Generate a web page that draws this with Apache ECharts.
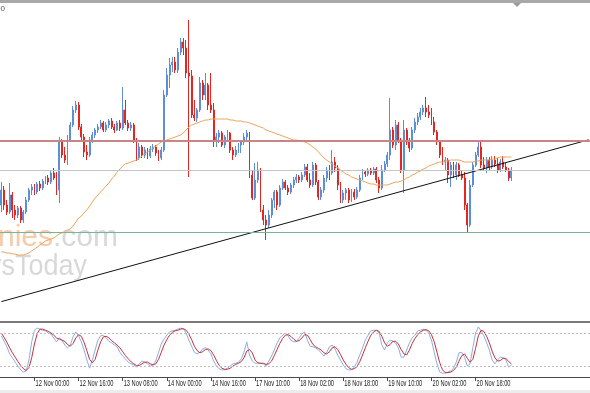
<!DOCTYPE html>
<html><head><meta charset="utf-8">
<script src="https://cdn.jsdelivr.net/npm/echarts@6/dist/echarts.min.js"></script>
<style>html,body{margin:0;padding:0;background:#fff;overflow:hidden}#c{width:590px;height:393px}</style>
</head><body><div id="c"></div>
<script>
// OHLC candles: [open, close, low, high]
const candles = [
[115,130,108,138],[130,115,110,134],[115,108,105,120],[108,125,106,137],[125,110,102,128],[110,105,100,115],[105,112,102,114],[112,100,97,114],[100,108,97,110],[108,120,106,123],
[120,130,118,132],[130,133,125,136],[133,128,125,136],[128,136,126,138],[136,132,129,139],[132,139,130,141],[139,142,136,144],[142,138,135,145],[138,147,136,150],[147,142,140,152],
[142,130,125,148],[130,178,117,183],[178,165,162,181],[165,160,157,173],[160,180,155,185],[180,195,178,198],[195,210,193,214],[210,215,207,219],[215,193,190,218],[193,183,180,196],
[183,168,163,186],[168,165,160,175],[165,180,163,183],[180,185,177,188],[185,190,182,192],[190,193,187,196],[193,197,191,200],[197,190,188,199],[190,195,188,198],[195,199,192,201],
[199,193,191,202],[193,190,187,196],[190,197,189,199],[197,192,189,200],[192,210,190,233],[210,197,195,220],[197,192,189,200],[192,195,189,198],[195,180,177,197],[180,162,159,182],
[162,173,160,177],[173,165,162,175],[165,170,162,173],[170,164,161,172],[164,171,162,174],[171,173,168,176],[173,167,164,175],[167,162,159,170],[162,170,160,173],[170,225,168,230],
[225,245,223,252],[245,255,232,262],[255,258,248,263],[258,250,247,263],[250,268,247,272],[268,278,265,282],[278,272,265,282],[272,247,242,280],[247,244,143,300],[244,205,202,250],
[205,202,199,220],[202,210,198,212],[210,237,208,243],[237,225,220,240],[225,235,220,247],[235,215,210,237],[215,210,207,247],[210,180,173,217],[180,183,173,187],[183,187,177,190],
[187,175,173,189],[175,183,172,185],[183,187,178,190],[187,170,167,188],[170,165,160,173],[165,170,163,174],[170,175,167,177],[175,178,167,180],[178,183,175,187],[183,187,180,190],
[187,145,142,188],[145,122,120,150],[122,140,120,157],[140,150,137,158],[150,110,108,152],[110,100,95,115],[100,95,80,105],[95,105,92,110],[105,120,102,122],[120,128,112,130],
[128,115,110,130],[115,132,113,135],[132,138,130,141],[138,132,130,140],[132,128,125,135],[128,135,126,137],[135,140,132,143],[140,143,137,146],[143,140,137,145],[140,145,138,148],
[145,153,143,156],[153,140,138,156],[140,135,132,147],[135,155,133,158],[155,138,135,157],[138,123,120,140],[123,130,120,133],[130,142,127,145],[142,150,138,153],[150,147,140,155],
[147,158,145,170],[158,152,148,163],[152,135,130,155],[135,120,117,138],[120,127,117,130],[127,130,120,132],[130,120,117,132],[120,128,118,131],[128,123,120,131],[123,130,121,133],
[130,142,128,145],[142,148,140,151],[148,146,143,150],[146,150,144,152],[150,147,145,152],[147,151,145,153],[151,140,137,153],[140,132,127,143],[132,150,130,155],[150,156,148,159],
[156,165,153,168],[165,190,160,222],[190,175,172,193],[175,195,170,200],[195,180,177,198],[180,150,147,182],[150,190,127,200],[190,178,175,192],[178,172,168,182],[172,190,170,193],
[190,198,187,202],[198,203,195,207],[203,208,200,212],[208,212,205,215],[212,208,203,223],[208,205,202,215],[205,198,195,212],[198,188,185,203],[188,178,175,190],[178,165,162,180],
[165,158,155,173],[158,160,150,163],[160,145,137,162],[145,155,133,158],[155,145,142,158],[145,155,140,158],[155,145,143,157],[145,142,140,150],[142,115,110,148],[115,95,88,117],
[95,135,93,140],[135,155,133,158],[155,165,153,168],[165,173,163,178],[173,155,152,178],[155,152,149,163],[152,160,147,163],[160,153,150,163],[153,160,151,164],[160,156,153,164],
[156,150,147,162],[150,158,148,161],[158,153,151,164],[153,150,148,157],[150,142,139,152],[142,150,139,153]
];
const maValues = [
68,68,67,67,66,66,65,65,65,66, 67,69,71,73,75,77,79,80,81,82, 84,86,87,89,90,91,94,98,102,104,
107,110,114,118,122,125,128,131,134,137, 141,144,148,151,154,156,157,158,159,160, 162,164,166,168,170,172,174,176,178,179,
180,181,182,183,184,185,187,190,193,195, 196,197,198,199,200,200,201,201,201,201, 201,201,201,200,200,199,199,199,198,198,
197,196,195,194,193,192,190,189,188,187, 186,185,184,183,182,181,180,180,179,179, 178,177,175,173,171,168,165,162,160,158,
156,154,152,150,148,146,145,143,142,141, 140,139,138,137,136,136,135,135,135,135, 135,136,137,138,138,139,140,142,143,145,
146,148,149,151,152,154,155,156,157,158, 158,159,159,160,160,160,160,159,158,158, 158,158,159,159,160,160,160,160,161,161,
162,163,163,163,163,163
];
const stochMain = [
75,65,55,42,35,27,20,13,9,11, 31,64,85,89,87,85,84,80,78,71, 64,71,67,58,53,58,73,82,75,64,
49,31,16,31,49,67,75,76,71,65, 62,58,55,45,38,33,27,24,22,18, 24,29,27,24,20,22,29,45,60,69,
76,82,84,85,87,89,87,80,67,56, 45,42,45,51,53,49,42,29,20,15, 13,13,16,20,24,25,27,33,45,64,
40,29,25,25,25,24,20,29,38,49, 62,71,76,80,75,67,64,64,71,78, 82,67,56,55,53,49,44,38,45,55,
58,51,40,31,22,15,13,13,18,27, 40,53,67,76,84,85,85,80,58,49, 62,67,65,62,53,36,36,49,62,71,
76,84,85,87,85,80,67,45,24,9, 7,7,9,11,16,27,44,45,36,20, 24,53,80,91,84,75,62,49,31,24,
31,36,35,31,18,22
];
const stochSignal = [
80,72,63,53,44,36,28,21,15,12, 17,35,60,79,87,87,85,83,80,76, 71,69,67,65,59,56,61,71,77,74,
63,48,32,26,32,49,64,73,74,71, 66,62,58,53,46,39,33,28,24,21, 21,24,27,27,24,22,24,32,45,58,
68,76,81,84,85,87,88,85,78,68, 56,48,44,46,50,51,48,40,30,21, 16,14,14,16,20,23,25,28,35,47,
50,44,31,26,25,25,23,24,29,39, 50,61,70,76,77,74,69,65,66,71, 77,76,68,59,55,52,49,44,42,46,
53,55,50,41,31,23,17,14,15,19, 28,40,53,65,76,82,85,83,74,62, 56,59,65,65,60,50,42,40,49,61,
70,77,82,85,86,84,77,64,45,26, 13,8,8,9,12,18,29,39,42,34, 27,32,52,75,85,83,74,62,47,35,
29,30,34,34,28,24
];
const tickLabels = ['12 Nov 00:00','12 Nov 16:00','13 Nov 08:00','14 Nov 00:00','14 Nov 16:00','17 Nov 10:00','18 Nov 02:00','18 Nov 18:00','19 Nov 10:00','20 Nov 02:00','20 Nov 18:00'];
const resistanceLevel = 179;
const pivotLevel = 150;
const supportLevel = 88;
const trendStart = 18.4;
const trendEnd = 180.2;
const stochLevels = [80, 20];

const slotCount = 214;
const firstTick = 12, tickStep = 16;
const lastTick = firstTick + tickStep * (tickLabels.length - 1);
const cats = Array.from({length: slotCount}, (_, i) => i);
const trendData = cats.map(i => i === 0 ? trendStart : (i === slotCount - 1 ? trendEnd : null));
const isTick = (idx) => idx >= firstTick && idx <= lastTick && (idx - firstTick) % tickStep === 0;

const chart = echarts.init(document.getElementById('c'), null, {renderer: 'canvas'});
chart.setOption({
  animation: false,
  backgroundColor: '#ffffff',
  grid: [
    {left: 0, right: -2, top: 3, bottom: 73},
    {left: 0, right: -2, top: 322, bottom: 16}
  ],
  xAxis: [
    {type: 'category', gridIndex: 0, data: cats, boundaryGap: true, show: false},
    {type: 'category', gridIndex: 1, data: cats, boundaryGap: true,
     axisLine: {show: true, lineStyle: {color: '#4a4a4a', width: 1}},
     axisTick: {show: true, alignWithLabel: true, interval: isTick, length: 4, lineStyle: {color: '#4a4a4a'}},
     axisLabel: {show: false},
     splitLine: {show: false}}
  ],
  yAxis: [
    {type: 'value', gridIndex: 0, min: 0, max: 317, show: false},
    {type: 'value', gridIndex: 1, min: 0, max: 100, show: false}
  ],
  series: [
    {type: 'candlestick', xAxisIndex: 0, yAxisIndex: 0, data: candles, barWidth: 1.4,
     itemStyle: {color: '#5b8fdb', color0: '#e32620', borderColor: '#5b8fdb', borderColor0: '#e32620', borderWidth: 1},
     markLine: {silent: true, symbol: 'none', label: {show: false},
       data: [
         {yAxis: resistanceLevel, lineStyle: {color: '#c98585', width: 2, type: 'solid'}},
         {yAxis: pivotLevel, lineStyle: {color: '#c4c4c4', width: 1, type: 'solid'}},
         {yAxis: supportLevel, lineStyle: {color: '#7db394', width: 1, type: 'solid'}}
       ]}},
    {type: 'line', xAxisIndex: 0, yAxisIndex: 0, data: maValues, symbol: 'none', smooth: false,
     lineStyle: {color: '#eda35c', width: 1}},
    {type: 'line', xAxisIndex: 0, yAxisIndex: 0, data: trendData, connectNulls: true, symbol: 'none',
     lineStyle: {color: '#111', width: 1}},
    {type: 'line', xAxisIndex: 1, yAxisIndex: 1, data: stochMain, symbol: 'none',
     lineStyle: {color: '#8eaee0', width: 1},
     markLine: {silent: true, symbol: 'none', label: {show: false},
       data: stochLevels.map(v => ({yAxis: v})),
       lineStyle: {color: '#bdbdbd', width: 1, type: [2, 2]}}},
    {type: 'line', xAxisIndex: 1, yAxisIndex: 1, data: stochSignal, symbol: 'none',
     lineStyle: {color: '#c8303c', width: 1}}
  ]
});

// time labels placed at the axis ticks (through the axis scale), horizontally condensed like the source
const labelGraphics = tickLabels.map((t, i) => {
  const px = chart.convertToPixel({xAxisIndex: 1}, firstTick + i * tickStep);
  return {type: 'text', x: px + 1, y: 383, scaleX: 0.6, z: 10,
    style: {text: t, fontSize: 9.5, fontFamily: 'Liberation Sans', fill: '#222', verticalAlign: 'middle'}};
});

chart.setOption({
  graphic: [
    {type: 'rect', shape: {x: 0, y: 0, width: 590, height: 3}, style: {fill: '#a8a8a8'}},
    {type: 'polygon', shape: {points: [[513, 3], [521, 3], [517, 7]]}, style: {fill: '#9a9a9a'}},
    {type: 'text', x: -4, y: 5, style: {text: '00', fontSize: 8, fill: '#555', fontFamily: 'Liberation Sans'}},
    {type: 'text', x: -2, y: 238, scaleX: 1, style: {text: '{a|nies}{b|.com}', verticalAlign: 'middle',
      rich: {a: {fill: '#f6cbaa', fontSize: 30, fontFamily: 'Liberation Sans'}, b: {fill: '#d8d8d8', fontSize: 30, fontFamily: 'Liberation Sans'}}}},
    {type: 'text', x: -12, y: 267, scaleX: 0.9, style: {text: 'ysToday', verticalAlign: 'middle', fill: '#d8d8d8', fontSize: 30, fontFamily: 'Liberation Sans'}},
    {type: 'rect', shape: {x: 0, y: 321, width: 590, height: 2}, style: {fill: '#7a7a7a'}},
    {type: 'rect', shape: {x: 0, y: 390, width: 590, height: 3}, style: {fill: '#ececec'}}
  ].concat(labelGraphics)
});
</script></body></html>
